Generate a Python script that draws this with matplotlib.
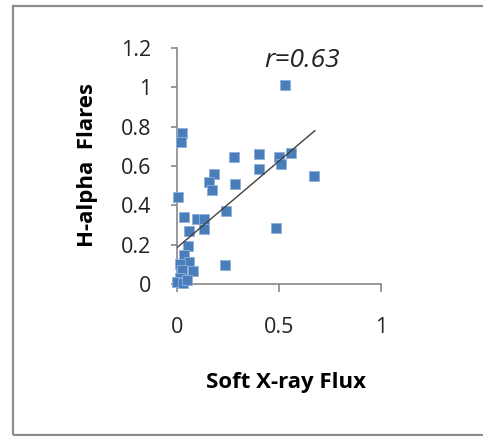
import matplotlib
matplotlib.use("Agg")
import matplotlib.pyplot as plt
from matplotlib.patches import Rectangle

# Data
soft_xray = [0.53, 0.025, 0.02, 0.28, 0.40, 0.50, 0.51, 0.56, 0.40, 0.67,
             0.18, 0.157, 0.17, 0.284, 0.005, 0.24, 0.035, 0.10, 0.13, 0.13,
             0.06, 0.485, 0.055, 0.035, 0.06, 0.015, 0.235, 0.08, 0.025,
             0.015, 0.0, 0.03, 0.05]
h_alpha = [1.01, 0.77, 0.72, 0.645, 0.66, 0.645, 0.61, 0.665, 0.585, 0.55,
           0.56, 0.52, 0.48, 0.51, 0.44, 0.37, 0.34, 0.33, 0.33, 0.28,
           0.27, 0.285, 0.195, 0.15, 0.11, 0.10, 0.095, 0.065, 0.07,
           0.03, 0.01, 0.005, 0.02]
trend_intercept = 0.185
trend_slope = 0.88
trend_x = [0.0, 0.676]
x_ticks = [0, 0.5, 1]
x_tick_labels = ["0", "0.5", "1"]
y_ticks = [0, 0.2, 0.4, 0.6, 0.8, 1.0, 1.2]
y_tick_labels = ["0", "0.2", "0.4", "0.6", "0.8", "1", "1.2"]

plt.rcParams['font.family'] = ['Open Sans', 'DejaVu Sans']

fig = plt.figure(figsize=(4.83, 4.36), dpi=100)
ax = fig.add_axes([177/483, 152/436, (381-177)/483, (284-48)/436])

ax.scatter(soft_xray, h_alpha, marker='s', s=62, color='#4A7EBB',
           edgecolors='#8FB0DA', linewidths=0.6, zorder=3, clip_on=False)
ty = [trend_intercept + trend_slope * v for v in trend_x]
ax.plot(trend_x, ty, color='#404040', lw=1.0, zorder=4)

ax.set_xlim(0, 1)
ax.set_ylim(0, 1.2)
ax.set_xticks(x_ticks)
ax.set_xticklabels(x_tick_labels)
ax.set_yticks(y_ticks)
ax.set_yticklabels(y_tick_labels)

for s in ['top', 'right']:
    ax.spines[s].set_visible(False)
for s in ['left', 'bottom']:
    ax.spines[s].set_color('#888888')
    ax.spines[s].set_linewidth(1.2)

ax.tick_params(axis='x', direction='out', length=6, width=1.2, color='#888888',
               pad=18, labelsize=15.5, labelcolor='#222222')
ax.tick_params(axis='y', direction='out', length=4.5, width=1.2, color='#888888',
               pad=14, labelsize=15.5, labelcolor='#222222')

ax.set_xlabel("Soft X-ray Flux", fontsize=16, fontweight='bold', va='center')
ax.xaxis.set_label_coords((286-177)/204, (284-382)/236)
ax.set_ylabel("H-alpha  Flares", fontsize=16, fontweight='bold', va='center')
ax.yaxis.set_label_coords((88-177)/204, (284-165)/236)

ax.text(0.613, 1.137, "r=0.63", fontsize=19, style='italic',
        ha='center', va='center', color='#222222')

fig.add_artist(Rectangle((13/483, 1.5/436), 1.0, 428.5/436,
                         transform=fig.transFigure, fill=False,
                         edgecolor='#8C8C8C', linewidth=1.6, clip_on=False))

fig.savefig("out.png", dpi=100)
